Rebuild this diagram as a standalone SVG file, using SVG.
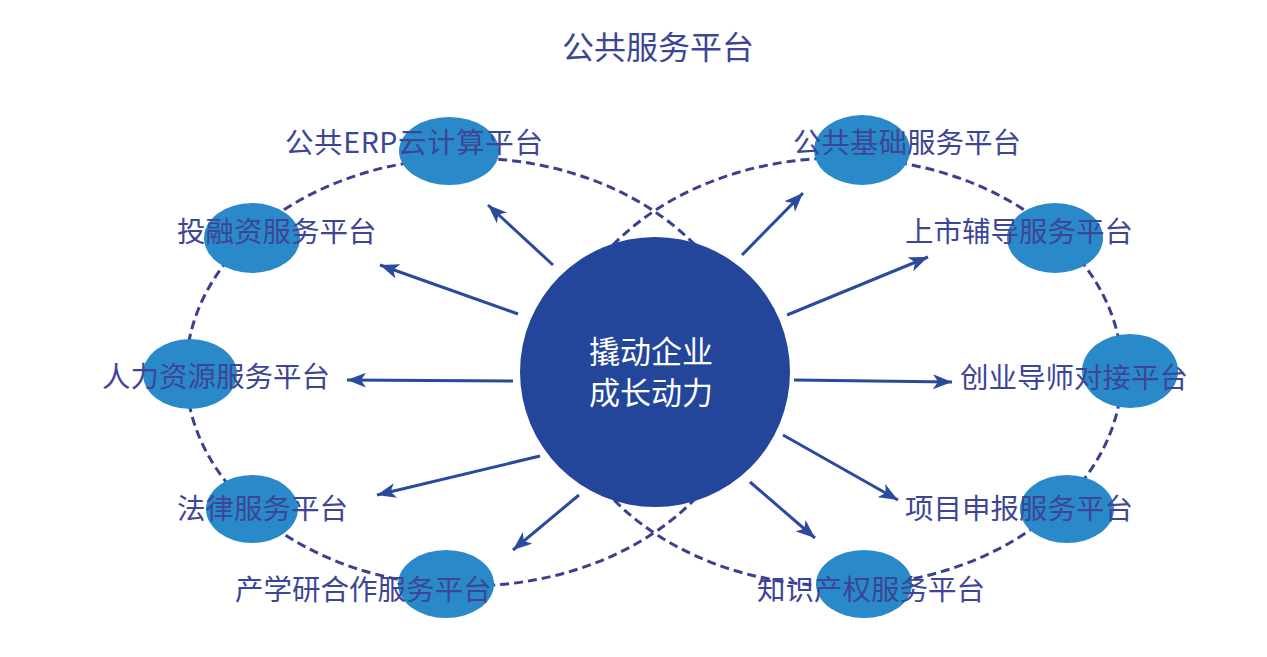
<svg xmlns="http://www.w3.org/2000/svg" width="1267" height="657" viewBox="0 0 1267 657">
<style>
.ring{fill:none;stroke:#3b418f;stroke-width:3;stroke-dasharray:9 5}
.blob{fill:#2a8ac9}
.lbl{font-family:"Noto Sans CJK SC","Noto Sans",sans-serif;font-size:28.5px;fill:#3d4596}
.title{font-family:"Noto Sans CJK SC","Noto Sans",sans-serif;font-size:32px;fill:#3d4596}
.ctr{font-family:"Noto Sans CJK SC","Noto Sans",sans-serif;font-size:31px;fill:#ffffff;text-anchor:middle}
.arr{stroke:#2a4a9e;stroke-width:3;fill:none;marker-end:url(#ah)}
</style>
<defs>
<marker id="ah" markerUnits="userSpaceOnUse" markerWidth="22" markerHeight="16" refX="19" refY="7.5" orient="auto">
<path d="M0,0 L19,7.5 L0,15 L5,7.5 z" fill="#2a4a9e"/>
</marker>
</defs>
<rect width="1267" height="657" fill="#ffffff"/>
<text class="title" x="562" y="59">公共服务平台</text>
<g id="rings">
<ellipse class="ring" cx="468" cy="372" rx="282" ry="214"/>
<ellipse class="ring" cx="840" cy="372" rx="282" ry="214"/>
</g>
<g id="node-erp"><ellipse class="blob" cx="449" cy="151" rx="50" ry="34"/><text class="lbl" x="285" y="153" textLength="258" lengthAdjust="spacing">公共ERP云计算平台</text></g>
<g id="node-jichu"><ellipse class="blob" cx="862" cy="150" rx="48" ry="35"/><text class="lbl" x="793" y="153">公共基础服务平台</text></g>
<g id="node-tourongzi"><ellipse class="blob" cx="252" cy="238" rx="48" ry="35"/><text class="lbl" x="177" y="242">投融资服务平台</text></g>
<g id="node-shangshi"><ellipse class="blob" cx="1055" cy="238" rx="48" ry="35"/><text class="lbl" x="905" y="242">上市辅导服务平台</text></g>
<g id="node-renli"><ellipse class="blob" cx="190" cy="374" rx="47" ry="35"/><text class="lbl" x="102" y="387">人力资源服务平台</text></g>
<g id="node-chuangye"><ellipse class="blob" cx="1130" cy="371" rx="48" ry="37"/><text class="lbl" x="960" y="388">创业导师对接平台</text></g>
<g id="node-falv"><ellipse class="blob" cx="252" cy="509" rx="46" ry="34"/><text class="lbl" x="177" y="519">法律服务平台</text></g>
<g id="node-chanxueyan"><ellipse class="blob" cx="446" cy="584" rx="48" ry="34"/><text class="lbl" x="235" y="600">产学研合作服务平台</text></g>
<g id="node-xiangmu"><ellipse class="blob" cx="1067" cy="509" rx="47" ry="34"/><text class="lbl" x="905" y="519">项目申报服务平台</text></g>
<g id="node-zhishi"><ellipse class="blob" cx="864" cy="584" rx="48" ry="34"/><text class="lbl" x="757" y="600">知识产权服务平台</text></g>
<g id="node-center">
<circle cx="655" cy="372" r="135" fill="#23469b"/>
<text class="ctr" x="651" y="363">撬动企业</text>
<text class="ctr" x="651" y="404">成长动力</text>
</g>
<g id="connectors">
<line class="arr" x1="553" y1="265" x2="488" y2="205"/>
<line class="arr" x1="518" y1="314" x2="380" y2="265"/>
<line class="arr" x1="513" y1="381" x2="347" y2="380"/>
<line class="arr" x1="540" y1="456" x2="377" y2="495"/>
<line class="arr" x1="579" y1="495" x2="513" y2="550"/>
<line class="arr" x1="750" y1="482" x2="815" y2="538"/>
<line class="arr" x1="783" y1="435" x2="898" y2="500"/>
<line class="arr" x1="794" y1="380" x2="952" y2="382"/>
<line class="arr" x1="787" y1="315" x2="928" y2="257"/>
<line class="arr" x1="742" y1="255" x2="803" y2="193"/>
</g>
</svg>
